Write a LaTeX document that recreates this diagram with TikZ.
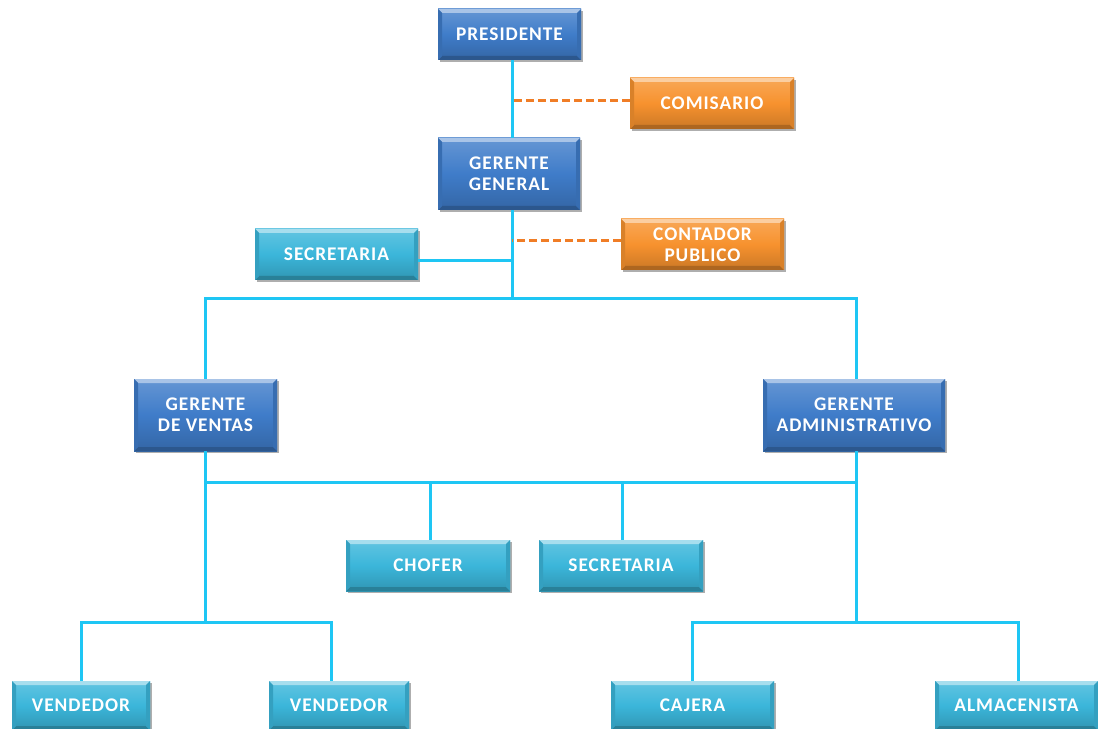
\documentclass[tikz,border=0pt]{standalone}
\usepackage{fontspec}
\newfontfamily\boxfont[LetterSpace=5]{Carlito}
\usetikzlibrary{shadows}
\newlength\px
\setlength\px{0.02cm}
\definecolor{blueA}{HTML}{3F7CC9}
\definecolor{orangeA}{HTML}{F7922E}
\definecolor{tealA}{HTML}{3BB6DA}
\definecolor{linkA}{HTML}{1EC6F4}
\definecolor{dashA}{HTML}{F07D26}
\tikzset{
  box/.style={
    minimum height=51\px, inner sep=0pt, align=center, text=white,
    font=\boxfont\bfseries\fontsize{11}{12}\selectfont,
    top color=#1!80!white, bottom color=#1!82!black, middle color=#1,
    drop shadow={shadow xshift=2\px, shadow yshift=-2\px, opacity=.45, fill=black!70},
    path picture={
      \fill[#1!45!white]
        (path picture bounding box.north west) -- (path picture bounding box.north east)
        -- ([xshift=-4\px,yshift=-4\px]path picture bounding box.north east)
        -- ([xshift=4\px,yshift=-4\px]path picture bounding box.north west) -- cycle;
      \fill[#1!70!black]
        (path picture bounding box.south west) -- (path picture bounding box.south east)
        -- ([xshift=-4\px,yshift=4\px]path picture bounding box.south east)
        -- ([xshift=4\px,yshift=4\px]path picture bounding box.south west) -- cycle;
      \fill[#1!88!black]
        (path picture bounding box.north east) -- (path picture bounding box.south east)
        -- ([xshift=-4\px,yshift=4\px]path picture bounding box.south east)
        -- ([xshift=-4\px,yshift=-4\px]path picture bounding box.north east) -- cycle;
      \fill[#1!88!black]
        (path picture bounding box.north west) -- (path picture bounding box.south west)
        -- ([xshift=4\px,yshift=4\px]path picture bounding box.south west)
        -- ([xshift=4\px,yshift=-4\px]path picture bounding box.north west) -- cycle;
    }
  },
  tall/.style={minimum height=72\px},
  link/.style={draw=linkA, line width=3\px},
  dashlink/.style={draw=dashA, line width=3\px, dash pattern=on 8\px off 4\px},
}
\begin{document}
\begin{tikzpicture}[x=0.02cm, y=-0.02cm]
  \useasboundingbox (0,0) rectangle (1098,729);

  % boxes
  \node[box=blueA, minimum width=143\px] (pres) at (509.5,34.5) {PRESIDENTE};
  \node[box=orangeA, minimum width=164\px] (com) at (712,103.5) {COMISARIO};
  \node[box=blueA, tall, minimum width=142\px] (gg) at (509,174) {GERENTE\\GENERAL};
  \node[box=tealA, minimum width=163\px] (sec1) at (336.5,254.5) {SECRETARIA};
  \node[box=orangeA, minimum width=163\px] (cont) at (702.5,244.5) {CONTADOR\\PUBLICO};
  \node[box=blueA, tall, minimum width=143\px] (gdv) at (205.5,415) {GERENTE\\DE VENTAS};
  \node[box=blueA, tall, minimum width=182\px] (ga) at (854,415) {GERENTE\\ADMINISTRATIVO};
  \node[box=tealA, minimum width=164\px] (chof) at (428,565.5) {CHOFER};
  \node[box=tealA, minimum width=164\px] (sec2) at (621,565.5) {SECRETARIA};
  \node[box=tealA, minimum width=138\px, minimum height=49\px] (v1) at (81,705.5) {VENDEDOR};
  \node[box=tealA, minimum width=140\px, minimum height=49\px] (v2) at (339,705.5) {VENDEDOR};
  \node[box=tealA, minimum width=163\px, minimum height=49\px] (caj) at (692.5,705.5) {CAJERA};
  \node[box=tealA, minimum width=163\px, minimum height=49\px] (alm) at (1016.5,705.5) {ALMACENISTA};

  % bus levels and the main stem
  \coordinate (bus1) at (0,299);
  \coordinate (bus2) at (0,482);
  \coordinate (bus3) at (0,622);
  \coordinate (stemtop) at ([xshift=2.5\px]pres.south);
  \coordinate (stembot) at ([xshift=3\px]gg.south);

  % upper chain
  \draw[link] (stemtop) -- (stemtop |- gg.north);
  \draw[dashlink] ([yshift=3\px]com.west) -- ([yshift=3\px]com.west -| stemtop);
  \draw[link] (stembot) -- (stembot |- bus1);
  \draw[link] ([yshift=-6\px]sec1.east) -- ([yshift=-6\px]sec1.east -| stembot);
  \draw[dashlink] ([yshift=4\px]cont.west) -- ([yshift=4\px]cont.west -| stembot);
  \draw[link] (gdv.north) -- (gdv.north |- bus1) -- ([xshift=2\px]ga.north |- bus1) -- ([xshift=2\px]ga.north);

  % middle level
  \draw[link] (gdv.south) -- (gdv.south |- bus3);
  \draw[link] ([xshift=2\px]ga.south) -- ([xshift=2\px]ga.south |- bus3);
  \draw[link] (gdv.south |- bus2) -- ([xshift=2\px]ga.south |- bus2);
  \draw[link] ([xshift=2\px]chof.north) -- ([xshift=2\px]chof.north |- bus2);
  \draw[link] ([xshift=1\px]sec2.north) -- ([xshift=1\px]sec2.north |- bus2);

  % lower level
  \draw[link] (v1.north) -- (v1.north |- bus3) -- ([xshift=-8\px]v2.north |- bus3) -- ([xshift=-8\px]v2.north);
  \draw[link] (caj.north) -- (caj.north |- bus3) -- ([xshift=1.5\px]alm.north |- bus3) -- ([xshift=1.5\px]alm.north);
\end{tikzpicture}
\end{document}
